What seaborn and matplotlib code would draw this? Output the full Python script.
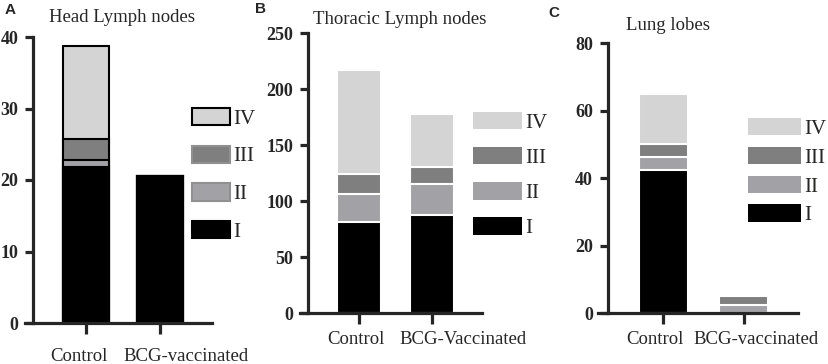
import matplotlib
matplotlib.use("Agg")
import matplotlib.pyplot as plt
import matplotlib.transforms as mtransforms
from matplotlib.patches import Patch
import numpy as np
import seaborn as sns

sns.set_style("ticks")
plt.rcParams["font.family"] = ["Liberation Serif", "DejaVu Serif"]

stages = ["I", "II", "III", "IV"]
stage_colors = ["#000000", "#a2a2a6", "#7f7f7f", "#d4d4d4"]

# A - head lymph nodes
head_groups = ["Control", "BCG-vaccinated"]
head_I = [21.8, 20.6]
head_II = [1.0, 0.0]
head_III = [3.0, 0.0]
head_IV = [13.0, 0.0]

# B - thoracic lymph nodes
thor_groups = ["Control", "BCG-Vaccinated"]
thor_I = [81.5, 87.5]
thor_II = [25.0, 28.0]
thor_III = [17.5, 15.0]
thor_IV = [93.0, 47.0]

# C - lung lobes
lung_groups = ["Control", "BCG-vaccinated"]
lung_I = [42.4, 0.0]
lung_II = [3.9, 2.4]
lung_III = [3.8, 2.7]
lung_IV = [14.8, 0.0]

W, H = 829, 364
fig = plt.figure(figsize=(W / 100, H / 100), dpi=100)


def px_axes(l, r, t, b):
    return fig.add_axes([l / W, 1 - b / H, (r - l) / W, (b - t) / H])


def stacked(ax, groups, layers, edge, lw, width):
    # draw cumulative totals from the top layer down so they stack
    tops = np.cumsum(np.array(layers), axis=0)
    for k in range(len(layers) - 1, -1, -1):
        sns.barplot(x=groups, y=tops[k], color=stage_colors[k], edgecolor=edge,
                    linewidth=lw, width=width, saturation=1, ax=ax)


def style(ax, ymax, step, xlim, spine_x, xpad, shifts):
    ax.set_ylim(0, ymax)
    ax.set_yticks(np.arange(0, ymax + 1, step))
    ax.set_xlim(*xlim)
    ax.set_xlabel("")
    ax.set_ylabel("")
    ax.spines[["top", "right"]].set_visible(False)
    ax.spines["left"].set_position(("data", spine_x))
    for s in ["left", "bottom"]:
        ax.spines[s].set_linewidth(2.3)
    ax.tick_params(axis="y", width=2.3, length=6, pad=5, labelsize=13)
    ax.tick_params(axis="x", width=2.3, length=8, pad=xpad, labelsize=13.5)
    for t in ax.get_yticklabels():
        t.set_fontweight("bold")
    # labels in the original sit a little off their ticks
    for t, dx in zip(ax.get_xticklabels(), shifts):
        t.set_transform(t.get_transform() +
                        mtransforms.ScaledTranslation(dx / 100, 0, fig.dpi_scale_trans))


def legend(ax, x, y, hl, hh, sp, edges):
    handles = [Patch(facecolor=stage_colors[k], edgecolor=edges[k], linewidth=1.5,
                     label=stages[k]) for k in [3, 2, 1, 0]]
    ax.legend(handles=handles, loc="upper left", bbox_to_anchor=(x / W, 1 - y / H),
              bbox_transform=fig.transFigure, frameon=False, fontsize=15,
              handlelength=hl, handleheight=hh, labelspacing=sp,
              handletextpad=0.15, borderpad=0, borderaxespad=0)


# panel A
axA = px_axes(25, 212, 37, 323)
stacked(axA, head_groups, [head_I, head_II, head_III, head_IV], "black", 1.5, 0.62)
style(axA, 40, 10, (-0.824, 1.703), -0.71, 10, [-7, 26])
legend(axA, 192, 108, 1.83, 0.91, 0.8, ["black", "#909090", "#909090", "black"])

# panel B
axB = px_axes(300, 482, 33, 313)
stacked(axB, thor_groups, [thor_I, thor_II, thor_III, thor_IV], "white", 1.5, 0.605)
style(axB, 250, 50, (-0.818, 1.685), -0.704, 5, [-4, 31])
legend(axB, 473, 112, 2.36, 0.91, 0.68, ["none"] * 4)

# panel C
axC = px_axes(598, 798, 43, 313)
stacked(axC, lung_groups, [lung_I, lung_II, lung_III, lung_IV], "white", 1.5, 0.606)
style(axC, 80, 20, (-0.814, 1.679), -0.686, 5, [-8, 12])
legend(axC, 748, 118, 2.55, 0.91, 0.38, ["none"] * 4)

# titles and panel letters
for x, y, s in [(122, 17, "Head Lymph nodes"), (400, 20, "Thoracic Lymph nodes"),
                (668, 25, "Lung lobes")]:
    fig.text(x / W, 1 - y / H, s, ha="center", va="center", fontsize=13.5)
for x, y, s in [(5, 10, "A"), (255, 9, "B"), (548, 13, "C")]:
    fig.text(x / W, 1 - y / H, s, ha="left", va="center", fontsize=11,
             fontweight="bold", family="Liberation Sans")

fig.savefig("out.png", dpi=100)
